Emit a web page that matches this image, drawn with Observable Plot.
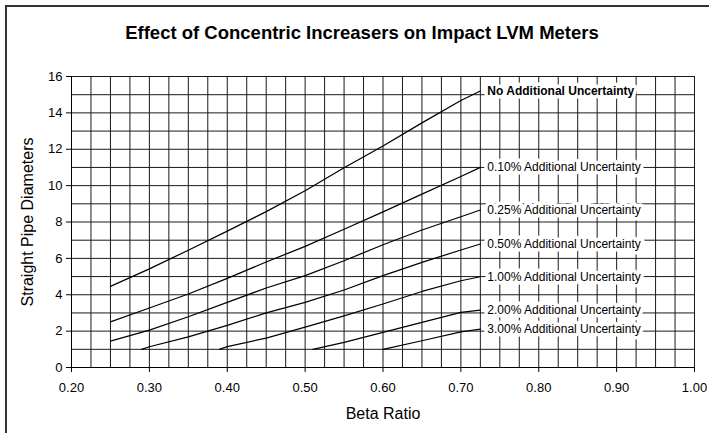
<!DOCTYPE html>
<html><head><meta charset="utf-8">
<script src="https://cdn.jsdelivr.net/npm/d3@7"></script>
<script src="https://cdn.jsdelivr.net/npm/@observablehq/plot@0.6"></script>
<style>
body{margin:0;background:#fff;}
#chart{position:relative;width:709px;height:433px;overflow:hidden;background:#fff;}
#border{position:absolute;left:5px;top:5px;width:800px;height:600px;border:2px solid #333;pointer-events:none;}
</style></head><body><div id="chart"><div id="border"></div></div>
<script>
const title = "Effect of Concentric Increasers on Impact LVM Meters";
const xLabel = "Beta Ratio";
const yLabel = "Straight Pipe Diameters";
const xTicks = [0.2, 0.3, 0.4, 0.5, 0.6, 0.7, 0.8, 0.9, 1.0];
const yTicks = [0, 2, 4, 6, 8, 10, 12, 14, 16];
const xGridStep = 0.025;
const yGridStep = 1;

const seriesNames = [
  "No Additional Uncertainty",
  "0.10% Additional Uncertainty",
  "0.25% Additional Uncertainty",
  "0.50% Additional Uncertainty",
  "1.00% Additional Uncertainty",
  "2.00% Additional Uncertainty",
  "3.00% Additional Uncertainty"
];

const betaNone = [0.25, 0.30, 0.35, 0.40, 0.45, 0.50, 0.55, 0.60, 0.65, 0.70, 0.725];
const valNone  = [4.46, 5.42, 6.45, 7.50, 8.57, 9.72, 10.98, 12.18, 13.45, 14.68, 15.20];

const beta010 = [0.25, 0.30, 0.35, 0.40, 0.45, 0.50, 0.55, 0.60, 0.65, 0.70, 0.725];
const val010  = [2.51, 3.27, 4.04, 4.90, 5.80, 6.66, 7.60, 8.56, 9.53, 10.50, 11.00];

const beta025 = [0.25, 0.30, 0.35, 0.40, 0.45, 0.50, 0.55, 0.60, 0.65, 0.70, 0.725];
const val025  = [1.45, 2.06, 2.79, 3.58, 4.37, 5.05, 5.87, 6.75, 7.56, 8.29, 8.66];

const beta050 = [0.29, 0.30, 0.35, 0.40, 0.45, 0.50, 0.55, 0.60, 0.65, 0.70, 0.725];
const val050  = [1.00, 1.14, 1.68, 2.32, 3.00, 3.58, 4.26, 5.05, 5.78, 6.46, 6.79];

const beta100 = [0.39, 0.40, 0.45, 0.50, 0.55, 0.60, 0.65, 0.70, 0.725];
const val100  = [1.00, 1.15, 1.62, 2.22, 2.84, 3.49, 4.18, 4.77, 4.99];

const beta200 = [0.51, 0.55, 0.60, 0.65, 0.70, 0.725];
const val200  = [1.00, 1.38, 1.93, 2.48, 3.03, 3.16];

const beta300 = [0.60, 0.65, 0.70, 0.725];
const val300  = [1.00, 1.47, 1.96, 2.11];

const betas = [betaNone, beta010, beta025, beta050, beta100, beta200, beta300];
const vals = [valNone, val010, val025, val050, val100, val200, val300];

const rows = [];
const ends = [];
seriesNames.forEach((name, i) => {
  betas[i].forEach((b, j) => rows.push({name, beta: b, value: vals[i][j]}));
  const n = betas[i].length - 1;
  ends.push({name, beta: betas[i][n], value: vals[i][n], bold: i === 0});
});

const xGrid = d3.range(xTicks[0], xTicks[xTicks.length - 1] + 1e-9, xGridStep);
const yGrid = d3.range(yTicks[0], yTicks[yTicks.length - 1] + 1e-9, yGridStep);

const font = "'Liberation Sans', Arial, Helvetica, sans-serif";

const chart = Plot.plot({
  width: 709,
  height: 433,
  marginLeft: 71,
  marginRight: 15,
  marginTop: 76,
  marginBottom: 66,
  style: {fontFamily: font, fontSize: "13px", color: "#000", background: "transparent", overflow: "visible"},
  x: {domain: [0.2, 1.0]},
  y: {domain: [0, 16]},
  marks: [
    Plot.ruleX(xGrid, {stroke: "#1a1a1a", strokeWidth: 1}),
    Plot.ruleY(yGrid, {stroke: "#1a1a1a", strokeWidth: 1}),
    Plot.ruleX([xTicks[0]], {stroke: "#000"}),
    Plot.ruleY([yTicks[0]], {stroke: "#000"}),
    Plot.axisX(xTicks, {tickFormat: d3.format(".2f"), tickSize: 5, tickPadding: 10, label: null, fontSize: 13}),
    Plot.axisY(yTicks, {tickFormat: d3.format("d"), tickSize: 5, tickPadding: 4, label: null, fontSize: 13}),
    Plot.line(rows, {x: "beta", y: "value", z: "name", stroke: "#000", strokeWidth: 1.25}),
    Plot.text(ends.filter(d => !d.bold), {x: "beta", y: "value", text: "name", dx: 7, textAnchor: "start",
      fontSize: 12, fill: "#000", stroke: "#fff", strokeWidth: 7, strokeLinejoin: "round", paintOrder: "stroke"}),
    Plot.text(ends.filter(d => d.bold), {x: "beta", y: "value", text: "name", dx: 7, textAnchor: "start",
      fontSize: 12, fontWeight: "bold", fill: "#000", stroke: "#fff", strokeWidth: 7, strokeLinejoin: "round", paintOrder: "stroke"}),
    Plot.text([title], {frameAnchor: "top", dy: -43, dx: -21, textAnchor: "middle", lineAnchor: "middle", fontSize: 18.5, fontWeight: "bold", fill: "#000"}),
    Plot.text([xLabel], {frameAnchor: "bottom", dy: 46, textAnchor: "middle", lineAnchor: "middle", fontSize: 16, fill: "#000"}),
    Plot.text([yLabel], {frameAnchor: "left", dx: -44, rotate: -90, textAnchor: "middle", lineAnchor: "middle", fontSize: 16, fill: "#000"})
  ]
});
document.getElementById("chart").appendChild(chart);
</script>
</body></html>
